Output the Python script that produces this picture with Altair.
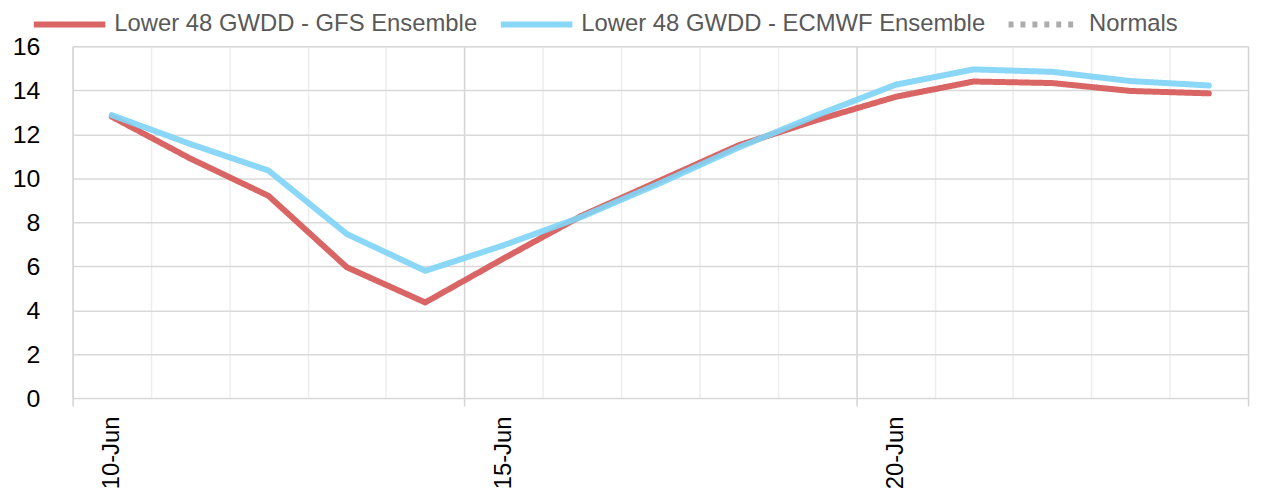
import altair as alt
import pandas as pd

days = ["10-Jun", "11-Jun", "12-Jun", "13-Jun", "14-Jun", "15-Jun", "16-Jun", "17-Jun",
        "18-Jun", "19-Jun", "20-Jun", "21-Jun", "22-Jun", "23-Jun", "24-Jun"]
gfs = [12.8, 10.9, 9.2, 5.95, 4.35, 6.35, 8.3, 9.9, 11.5, 12.65, 13.7, 14.4, 14.33, 13.97, 13.86]
ecmwf = [12.87, 11.56, 10.35, 7.46, 5.79, 6.95, 8.25, 9.78, 11.4, 12.87, 14.25, 14.95, 14.84, 14.42, 14.22]
series = ["Lower 48 GWDD - GFS Ensemble", "Lower 48 GWDD - ECMWF Ensemble", "Normals"]
colors = ["#d65858", "#80d4f6", "#a6a6a6"]
dashes = [[1, 0], [1, 0], [5, 7]]

rows = []
for i, d in enumerate(days):
    rows.append({"d": i, "v": gfs[i], "s": series[0], "o": 0})
    rows.append({"d": i, "v": ecmwf[i], "s": series[1], "o": 1})
df = pd.DataFrame(rows)

bounds = [i - 0.5 for i in range(len(days) + 1)]
xvals = sorted(bounds + list(range(len(days))))
days_js = "[" + ",".join("'%s'" % d for d in days) + "]"

FONT = "Liberation Sans"

x_axis = alt.Axis(
    values=xvals,
    labelExpr="(datum.value %% 5 == 0 && datum.value >= 0) ? %s[datum.value] : ''" % days_js,
    labelAngle=270,
    labelAlign="right",
    labelBaseline="middle",
    labelPadding=10,
    labelFontSize=24,
    labelFont=FONT,
    labelColor="#000000",
    labelOverlap=False,
    labelFlush=False,
    domain=False,
    grid=True,
    gridWidth=1.5,
    gridColor={"condition": {"test": "abs((datum.value + 0.5) % 5) < 0.01", "value": "#d4d4d4"}, "value": "#ededed"},
    gridOpacity={"condition": {"test": "datum.value % 1 == 0", "value": 0}, "value": 1},
    ticks=True,
    tickSize=8,
    tickWidth=1.5,
    tickColor="#d4d4d4",
    tickOpacity={"condition": {"test": "abs((datum.value + 0.5) % 5) < 0.01", "value": 1}, "value": 0},
    title=None,
)

y_axis = alt.Axis(
    values=list(range(0, 17, 2)),
    labelFontSize=25,
    labelFont=FONT,
    labelColor="#000000",
    labelPadding=33,
    ticks=False,
    domain=False,
    grid=True,
    gridColor="#d9d9d9",
    gridWidth=1.5,
    title=None,
    minExtent=65,
    maxExtent=65,
)

legend = alt.Legend(
    title=None,
    orient="none",
    legendX=-42,
    legendY=-61,
    direction="horizontal",
    symbolType="stroke",
    symbolSize=5184,
    symbolStrokeWidth=6,
    labelFontSize=24,
    labelFont=FONT,
    labelColor="#595959",
    labelOffset=6,
    labelLimit=600,
    columnPadding=11,
)

chart = alt.Chart(df).mark_line(
    strokeWidth=6, interpolate="linear", strokeCap="round", strokeJoin="round", opacity=0.92
).encode(
    x=alt.X("d:Q", scale=alt.Scale(domain=[-0.5, len(days) - 0.5], nice=False, zero=False), axis=x_axis),
    y=alt.Y("v:Q", scale=alt.Scale(domain=[0, 16], nice=False), axis=y_axis),
    color=alt.Color("s:N", scale=alt.Scale(domain=series, range=colors), legend=legend),
    strokeDash=alt.StrokeDash("s:N", scale=alt.Scale(domain=series, range=dashes), legend=legend),
    order=alt.Order("o:Q"),
).properties(
    width=1183,
    height=354,
    autosize=alt.AutoSizeParams(type="none"),
    padding={"left": 65, "top": 37, "right": 5, "bottom": 101},
).configure_view(stroke=None).configure(background="white")

chart.save("out.html", embed_options={"renderer": "svg", "actions": False})
